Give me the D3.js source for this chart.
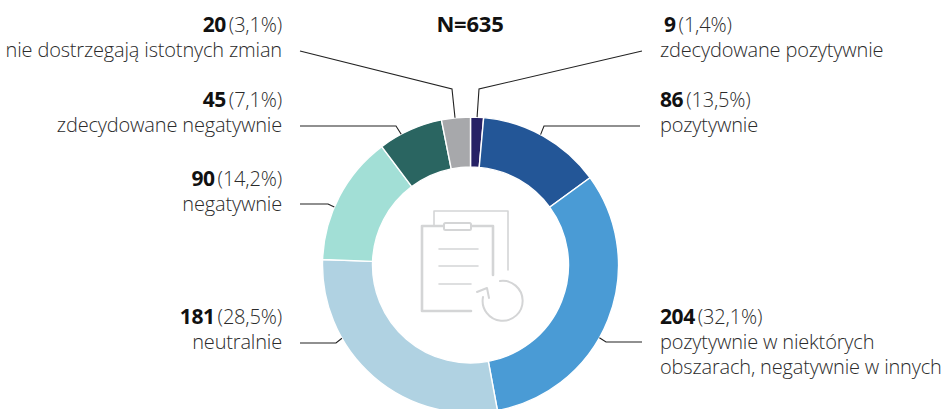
<!DOCTYPE html>
<html><head><meta charset="utf-8">
<script src="https://cdn.jsdelivr.net/npm/d3@7/dist/d3.min.js"></script>
<style>
html,body{margin:0;padding:0;background:#fff;overflow:hidden}
text{font-family:"Open Sans",sans-serif;font-size:20px;font-weight:300;fill:#2b2b2b;letter-spacing:-.17px}
.n{font-weight:700;fill:#111;font-size:21px;letter-spacing:-.4px}
.t{font-size:22px;letter-spacing:-.2px}
</style></head><body><svg id="c" width="945" height="409"></svg>
<script>
const counts=[9,86,204,181,90,45,20];
const percents=["1,4%","13,5%","32,1%","28,5%","14,2%","7,1%","3,1%"];
const colors=["#262166","#235697","#4a9bd5","#b0d2e2","#a2dfd6","#2a6561","#a7a8ab"];
const labelLines=[["zdecydowane pozytywnie"],["pozytywnie"],["pozytywnie w niektórych","obszarach, negatywnie w innych"],["neutralnie"],["negatywnie"],["zdecydowane negatywnie"],["nie dostrzegają istotnych zmian"]];
const title="N=635";
const cx=470.5,cy=265,R=148,r=98,lineGap=25;
// annotation layout: text x, first baseline, leader start, elbow, attach fraction along the slice
const blocks=[
 {x:660,nx:664,y:32,a:"start",lx:642,ly:51,ex:479,ey:89,f:.5},
 {x:660,y:107,a:"start",lx:640,ly:126,ex:544,ey:126,f:.475},
 {x:660,y:324,a:"start",lx:642,ly:342,ex:606,ey:342,f:.567},
 {x:282,y:324,a:"end",lx:300,ly:343,ex:336,ey:343,f:.69},
 {x:282,y:186,a:"end",lx:300,ly:204,ex:328,ey:204,f:.41},
 {x:282,y:107,a:"end",lx:300,ly:126,ex:396,ey:126,f:.35},
 {x:282,y:32,a:"end",lx:300,ly:51,ex:452,ey:89,f:.47}];
const svg=d3.select("#c");
const g=svg.append("g").attr("transform",`translate(${cx},${cy})`);
const pie=d3.pie().sort(null)(counts);
const arc=d3.arc().innerRadius(r).outerRadius(R);
g.selectAll("path").data(pie).join("path").attr("d",arc)
 .attr("fill",(d,i)=>colors[i]).attr("stroke","#fff").attr("stroke-width",1.4);
const line=d3.line();
pie.forEach((d,i)=>{
 const b=blocks[i];
 const m=d.startAngle+(d.endAngle-d.startAngle)*b.f;
 const px=cx+Math.sin(m)*R, py=cy-Math.cos(m)*R;
 svg.append("path").attr("d",line([[b.lx,b.ly],[b.ex,b.ey],[px,py]]))
  .attr("fill","none").attr("stroke","#222").attr("stroke-width",1.1);
 const t=svg.append("text").attr("x",b.nx||b.x).attr("y",b.y).attr("text-anchor",b.a);
 t.append("tspan").attr("class","n").text(counts[i]);
 t.append("tspan").attr("dx",3).text("("+percents[i]+")");
 labelLines[i].forEach((l,j)=>svg.append("text").attr("x",b.x).attr("y",b.y+(j+1)*lineGap).attr("text-anchor",b.a).text(l));
});
svg.append("text").attr("x",470).attr("y",32).attr("text-anchor","middle").attr("class","n t").text(title);
// central icon
const ic=svg.append("g").attr("fill","none").attr("stroke","#d4d5d6").attr("stroke-linecap","round").attr("stroke-linejoin","round");
ic.append("path").attr("stroke-width",1.6).attr("d","M434 225V211H508V270");
ic.append("path").attr("stroke-width",2.6).attr("d","M443 226H422V311H471M472 226H493V275");
ic.append("rect").attr("x",444).attr("y",223).attr("width",27).attr("height",7).attr("rx",1.5).attr("stroke-width",2);
ic.append("path").attr("stroke-width",1.6).attr("d","M439 249H478M439 266H478M439 284H471");
ic.append("path").attr("stroke-width",2).attr("d","M500 281A20 20 0 1 1 483 297M477 292L487 288L489 298");
</script></body></html>
